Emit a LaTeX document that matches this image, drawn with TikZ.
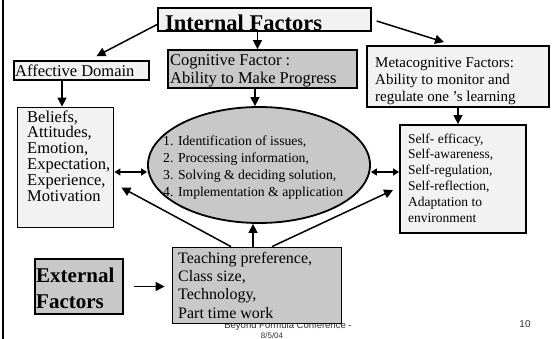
\documentclass[tikz,border=0pt]{standalone}
\usepackage{fontspec}
\setmainfont{Liberation Serif}
\newfontfamily\footfont{Liberation Sans}
\usetikzlibrary{arrows.meta,shapes.geometric}
\definecolor{lightfill}{RGB}{242,242,242}
\definecolor{grayfill}{RGB}{200,200,200}
\newcommand{\fstrut}[1]{\rule{0pt}{#1}}
\begin{document}
\begin{tikzpicture}[x=1pt,y=-1pt,
  box/.style={draw=black, line width=1.8pt, inner sep=0pt, rectangle},
  lbox/.style={box, fill=lightfill},
  gbox/.style={box, fill=grayfill},
  txt/.style={inner sep=0pt, anchor=north west, align=left},
  one/.style={inner sep=0pt, anchor=base west},
  arr/.style={line width=1.5pt, -{Triangle[length=9pt,width=9pt]}},
  dbl/.style={line width=2pt, {Triangle[length=6pt,width=7pt]}-{Triangle[length=6pt,width=7pt]}},
  foot/.style={inner sep=0pt, anchor=base, text=black!80, font=\footfont\fontsize{9.5}{10}\selectfont}
]
\useasboundingbox (0,0) rectangle (552,339);
\fill[white] (0,0) rectangle (552,339);
\draw[line width=2pt] (3,0) -- (3,339);

% footer (partly hidden by the teaching box)
\node[foot] (foot1) at (288,328) {Beyond Formula Conference -};
\node[foot, font=\footfont\fontsize{8}{9}\selectfont] (foot2) at (272,338.5) {8/5/04};
\node[foot, font=\footfont\fontsize{10}{11}\selectfont] (pageno) at (525,327) {10};

% boxes
\node[lbox, minimum width=213pt, minimum height=23pt] (internal) at (264.5,19.5) {};
\node[gbox, minimum width=189pt, minimum height=38pt] (cog) at (262.5,69) {};
\node[lbox, minimum width=182pt, minimum height=61pt] (meta) at (458,76.5) {};
\node[lbox, minimum width=135pt, minimum height=19pt] (aff) at (81.5,70.5) {};
\node[lbox, minimum width=96pt, minimum height=120pt] (beliefs) at (65.5,167.5) {};
\node[draw=black, ellipse, line width=1.8pt, fill=grayfill, inner sep=0pt,
      minimum width=222pt, minimum height=116pt] (ell) at (259,165) {};
\node[lbox, minimum width=126pt, minimum height=108pt] (self) at (463,179) {};
\node[gbox, minimum width=169pt, minimum height=76pt] (teach) at (257,285.5) {};
\node[gbox, minimum width=88pt, minimum height=55pt] (ext) at (79,286.5) {};

% texts
\node[one, font=\bfseries\fontsize{22.5}{24}\selectfont] (intt) at (165,31) {Internal Factors};
\node[txt, font=\fontsize{16.5}{18}\selectfont] (cogt) at (170,53) {\fstrut{12pt}Cognitive Factor :\\Ability to Make Progress};
\node[txt, font=\fontsize{15}{17}\selectfont] (metat) at (375,55) {\fstrut{12pt}Metacognitive Factors:\\Ability to monitor and\\regulate one ’s learning};
\node[one, font=\fontsize{16.5}{18}\selectfont] (afft) at (15,77) {Affective Domain};
\node[txt, font=\fontsize{16.5}{15.8}\selectfont] (belt) at (27,110) {\fstrut{12pt}Beliefs,\\Attitudes,\\Emotion,\\Expectation,\\Experience,\\Motivation};
\node[txt, font=\fontsize{13.7}{17}\selectfont] (ellt) at (163,134) {\fstrut{11pt}1. Identification of issues,\\2. Processing information,\\3. Solving \& deciding solution,\\4. Implementation \& application};
\node[txt, font=\fontsize{13.5}{15.8}\selectfont] (selft) at (408,132) {\fstrut{11pt}Self- efficacy,\\Self-awareness,\\Self-regulation,\\Self-reflection,\\Adaptation to\\environment};
\node[txt, font=\fontsize{16}{18.3}\selectfont] (teacht) at (178,251) {\fstrut{12pt}Teaching preference,\\Class size,\\Technology,\\Part time work};
\node[txt, font=\bfseries\fontsize{21}{26}\selectfont] (extt) at (36,266) {\fstrut{16pt}External\\Factors};

% connectors
\draw[arr] ([yshift=-5pt]internal.west) -- ([xshift=15pt,yshift=4pt]aff.north);
\draw[arr] ([xshift=-5pt]cog.north |- internal.south) -- ([xshift=-5pt]cog.north);
\draw[arr, shorten <=5pt] (internal.east) -- ([xshift=-14pt,yshift=3pt]meta.north);
\draw[arr] ([xshift=-3.5pt]beliefs.north |- aff.south) -- ([xshift=-3.5pt]beliefs.north);
\draw[arr] ([xshift=-4pt]ell.north |- cog.south) -- ([xshift=-4pt]ell.north);
\draw[arr] (meta.south) -- (meta.south |- self.north);
\draw[dbl] ([yshift=-4.5pt]beliefs.east) -- ([yshift=-4.5pt]beliefs.east -| ell.west);
\draw[dbl] ([yshift=7pt]self.west -| ell.east) -- ([yshift=7pt]self.west);
\draw[arr] ([xshift=-26pt]teach.north) -- ([xshift=7pt,yshift=-20pt]beliefs.east);
\draw[arr] ([xshift=-4pt]teach.north) -- ([xshift=-4pt]teach.north |- ell.south);
\draw[arr] ([xshift=15pt]teach.north) -- ([xshift=-6pt,yshift=-11pt]self.west);
\draw[arr, shorten <=10pt, shorten >=7pt] (ext.east) -- (ext.east -| teach.west);
\end{tikzpicture}
\end{document}
